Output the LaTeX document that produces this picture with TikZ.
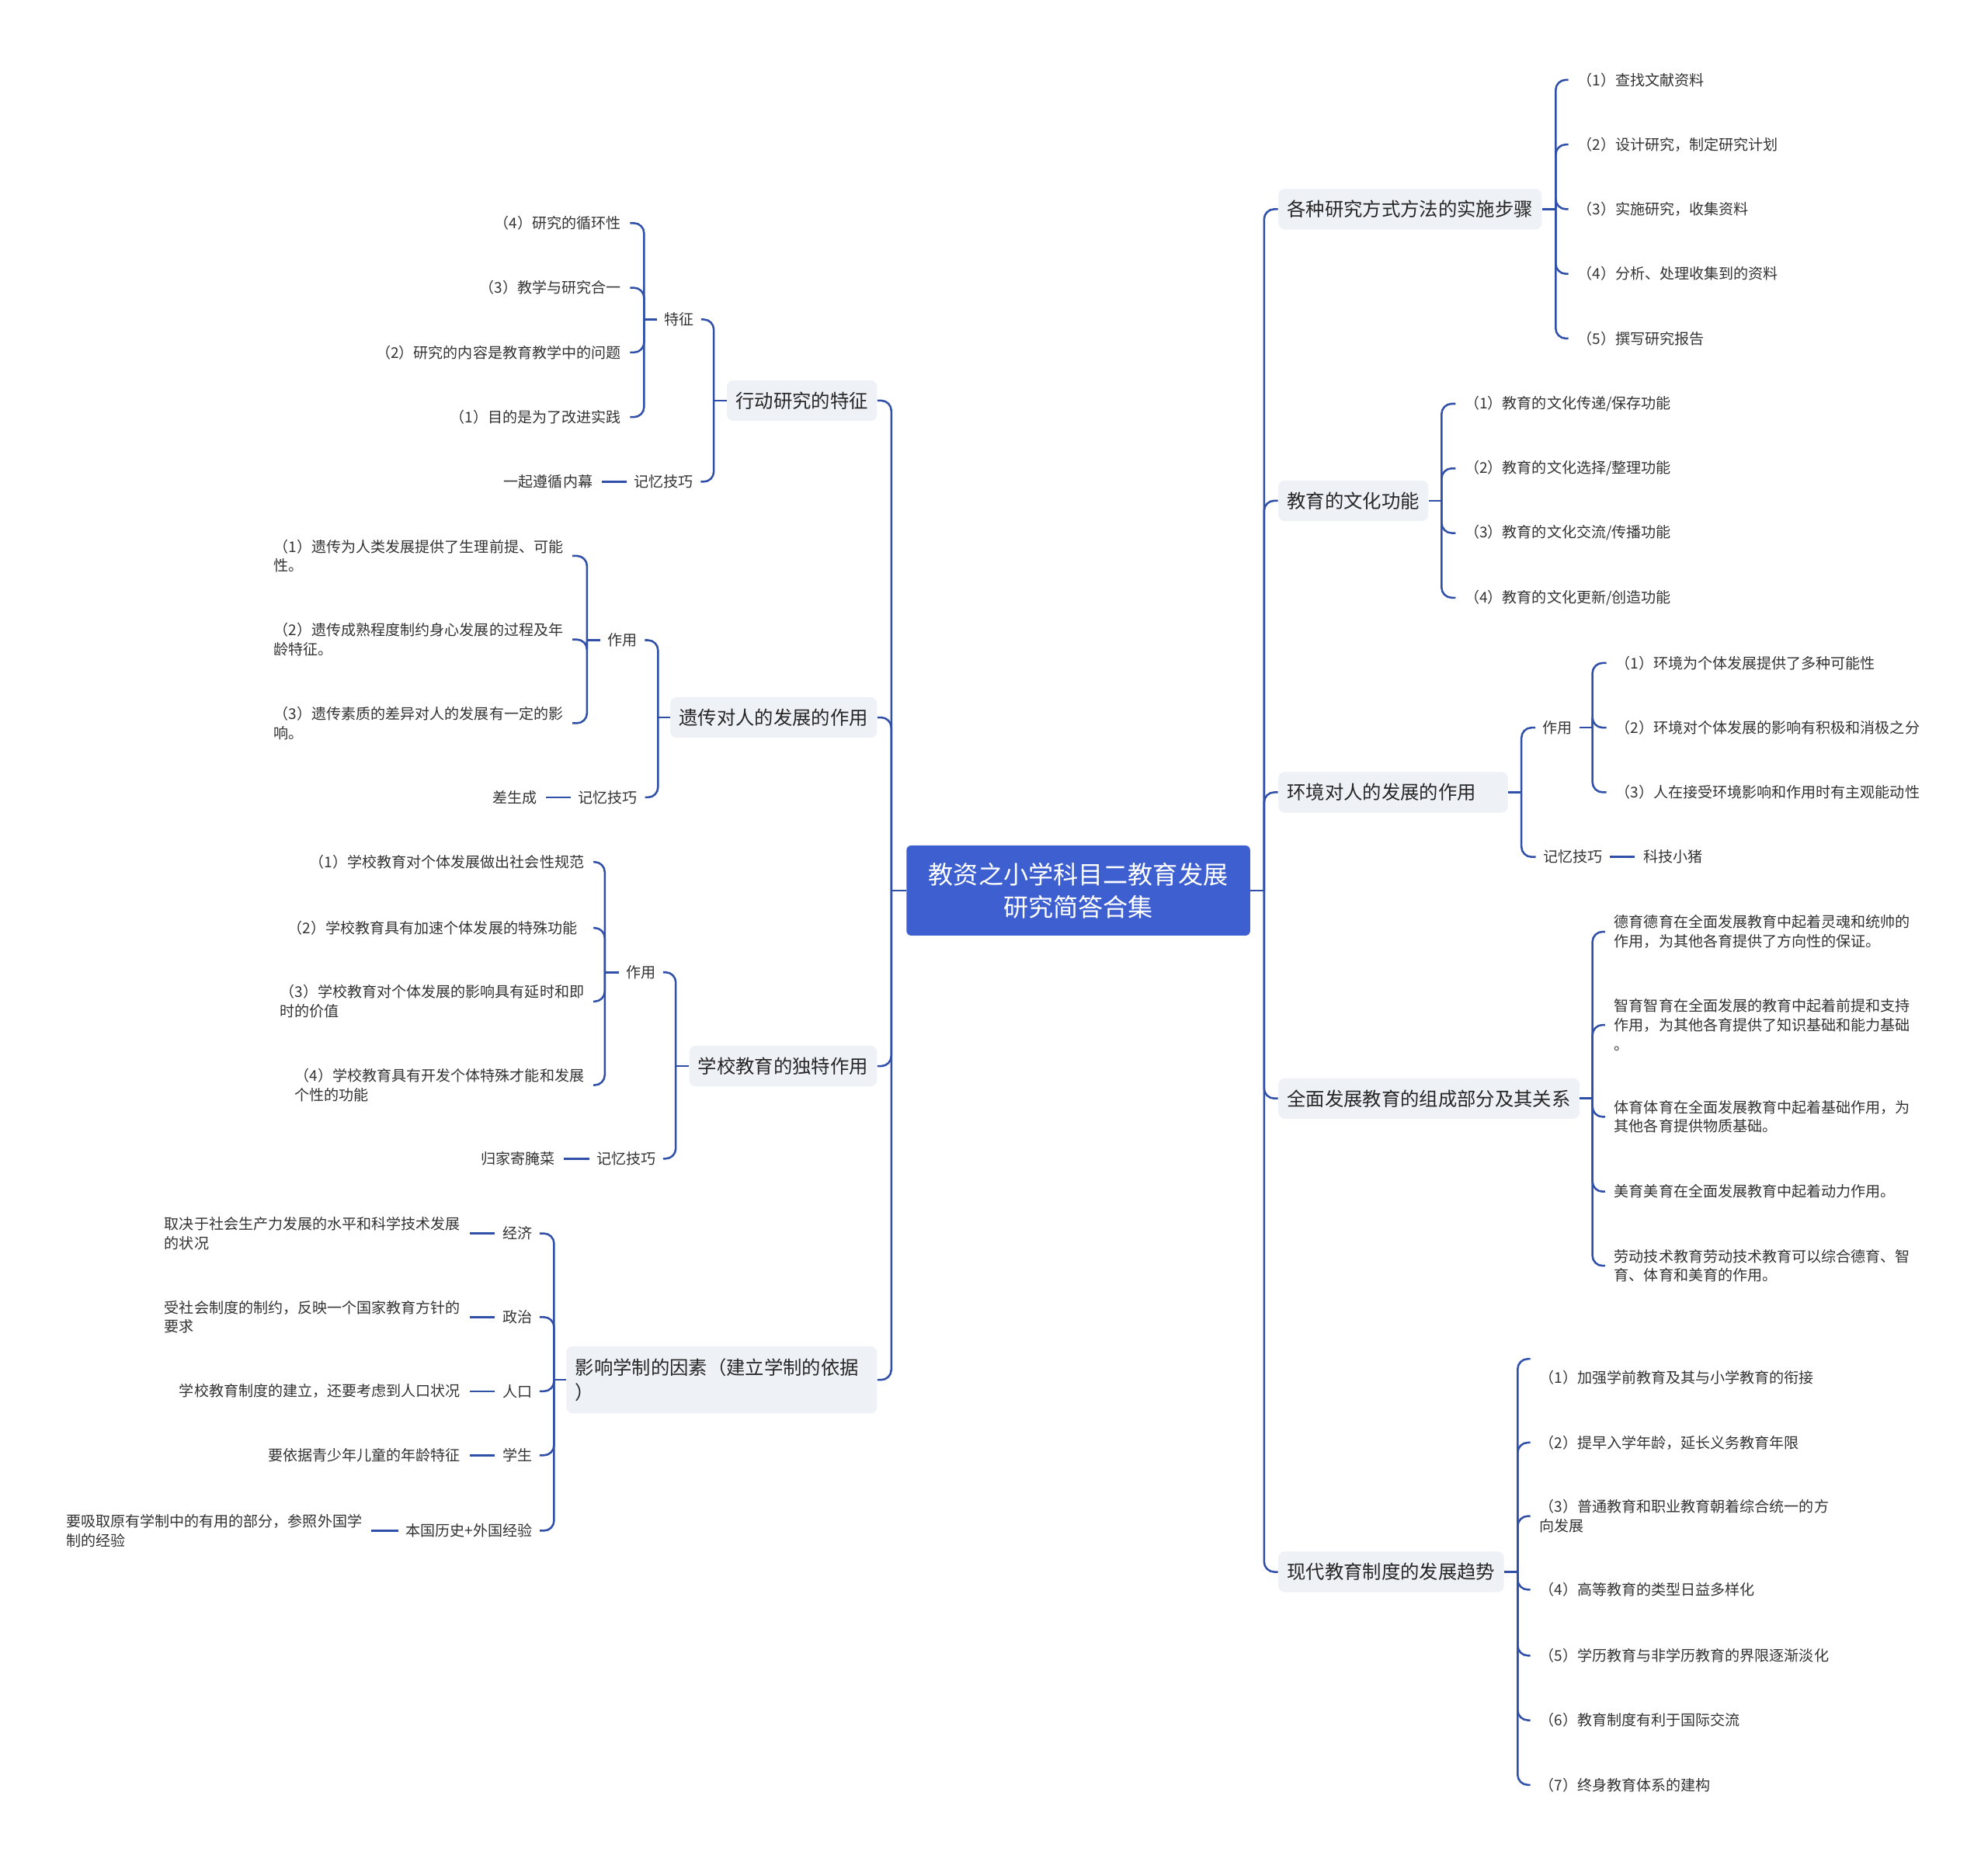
\documentclass[tikz,border=0pt]{standalone}
\usepackage{fontspec}
\setmainfont{Noto Sans CJK SC}
\usepackage{xcolor}
\usepackage{tikz}
\usetikzlibrary{positioning}

\definecolor{rootblue}{HTML}{3D5FCF}
\definecolor{linkblue}{HTML}{2F4FA8}
\definecolor{topicfill}{HTML}{EEF1F6}
\definecolor{textdark}{HTML}{262626}
\definecolor{textgray}{HTML}{333333}

\begin{document}
\begin{tikzpicture}[x=0.25mm, y=-0.25mm,
  root/.style={rectangle, rounded corners=0.9mm, fill=rootblue, text=white, font=\fontsize{14}{18.5}\selectfont, align=center, minimum width=67.75mm, minimum height=17.75mm, inner sep=0pt},
  topic/.style={rectangle, rounded corners=1.25mm, fill=topicfill, text=textdark, font=\fontsize{10.6}{14.2}\selectfont, inner xsep=1.75mm, inner ysep=0pt, minimum height=8mm, align=left},
  sub/.style={text=textgray, font=\fontsize{8.3}{10.7}\selectfont, inner xsep=1.4mm, inner ysep=0.5mm},
  leaf/.style={text=textgray, font=\fontsize{8.3}{10.7}\selectfont, inner xsep=1.75mm, inner ysep=0.5mm, align=left},
  link/.style={draw=linkblue, line width=1.1pt, rounded corners=2mm},
]
  \useasboundingbox[fill=white] (0,0) rectangle (1568,1471);

  % Root
  \node[root] (root) at (850.5,702.5) {教资之小学科目二教育发展\\研究简答合集};
  \coordinate (rootL) at (703,702.5);
  \coordinate (rootR) at (997,702.5);

  % Left topics
  \node[topic, anchor=east] (act) at (692,316) {行动研究的特征};
  \node[topic, anchor=east] (gene) at (692,566) {遗传对人的发展的作用};
  \node[topic, anchor=east] (school) at (692,841) {学校教育的独特作用};
  \node[topic, anchor=east, text width=57.75mm, minimum height=13.25mm] (sys) at (692,1088.5) {影响学制的因素（建立学制的依据\\）};

  % Right topics
  \node[topic, anchor=west] (steps) at (1008,165) {各种研究方式方法的实施步骤};
  \node[topic, anchor=west] (culture) at (1008,395) {教育的文化功能};
  \node[topic, anchor=west, text width=41.75mm] (env) at (1008,625) {环境对人的发展的作用};
  \node[topic, anchor=west] (allround) at (1008,866.5) {全面发展教育的组成部分及其关系};
  \node[topic, anchor=west] (modern) at (1008,1240) {现代教育制度的发展趋势};

  % Action research
  \coordinate (actj) at (563,316);
  \node[sub] (actf) at (535.5,252) {特征};
  \node[sub] (actm) at (523.5,380) {记忆技巧};
  \coordinate (actfj) at (508,252);
  \node[leaf, anchor=east] (actf4) at (497,176) {（4）研究的循环性};
  \node[leaf, anchor=east] (actf3) at (497,227) {（3）教学与研究合一};
  \node[leaf, anchor=east] (actf2) at (497,278) {（2）研究的内容是教育教学中的问题};
  \node[leaf, anchor=east] (actf1) at (497,329) {（1）目的是为了改进实践};
  \node[leaf, left=4.9mm of actm] (actm1) {一起遵循内幕};

  % Heredity
  \coordinate (genej) at (519,566);
  \node[sub] (genef) at (491,505) {作用};
  \node[sub] (genem) at (479.5,629) {记忆技巧};
  \coordinate (genefj) at (463,505);
  \node[leaf, anchor=east] (genef1) at (451.5,438.5) {（1）遗传为人类发展提供了生理前提、可能\\性。};
  \node[leaf, anchor=east] (genef2) at (451.5,504.5) {（2）遗传成熟程度制约身心发展的过程及年\\龄特征。};
  \node[leaf, anchor=east] (genef3) at (451.5,570.5) {（3）遗传素质的差异对人的发展有一定的影\\响。};
  \node[leaf, left=4.9mm of genem] (genem1) {差生成};

  % School education
  \coordinate (schoolj) at (533,841);
  \node[sub] (schoolf) at (505.5,767) {作用};
  \node[sub] (schoolm) at (494,914) {记忆技巧};
  \coordinate (schoolfj) at (477,767);
  \node[leaf, anchor=east] (schoolf1) at (468,680) {（1）学校教育对个体发展做出社会性规范};
  \node[leaf, anchor=east, text width=58.4mm] (schoolf2) at (468,732) {（2）学校教育具有加速个体发展的特殊功能};
  \node[leaf, anchor=east] (schoolf3) at (468,790) {（3）学校教育对个体发展的影响具有延时和即\\时的价值};
  \node[leaf, anchor=east] (schoolf4) at (468,856) {（4）学校教育具有开发个体特殊才能和发展\\个性的功能};
  \node[leaf, left=5mm of schoolm] (schoolm1) {归家寄腌菜};

  % School system
  \coordinate (sysj) at (437,1088.5);
  \node[sub] (sysa) at (408,973) {经济};
  \node[sub] (sysb) at (408,1039) {政治};
  \node[sub] (sysc) at (408,1097.5) {人口};
  \node[sub] (sysd) at (408,1148) {学生};
  \node[sub] (syse) at (370,1207.5) {本国历史+外国经验};
  \node[leaf, left=5mm of sysa] (sysa1) {取决于社会生产力发展的水平和科学技术发展\\的状况};
  \node[leaf, left=5mm of sysb] (sysb1) {受社会制度的制约，反映一个国家教育方针的\\要求};
  \node[leaf, left=5mm of sysc] (sysc1) {学校教育制度的建立，还要考虑到人口状况};
  \node[leaf, left=5mm of sysd] (sysd1) {要依据青少年儿童的年龄特征};
  \node[leaf, left=5.35mm of syse] (syse1) {要吸取原有学制中的有用的部分，参照外国学\\制的经验};

  % Research steps
  \coordinate (stepsj) at (1227,165);
  \node[leaf, anchor=west] (steps1) at (1237,63) {（1）查找文献资料};
  \node[leaf, anchor=west] (steps2) at (1237,114) {（2）设计研究，制定研究计划};
  \node[leaf, anchor=west] (steps3) at (1237,165) {（3）实施研究，收集资料};
  \node[leaf, anchor=west] (steps4) at (1237,216) {（4）分析、处理收集到的资料};
  \node[leaf, anchor=west] (steps5) at (1237,267) {（5）撰写研究报告};

  % Cultural functions
  \coordinate (culturej) at (1137,395);
  \node[leaf, anchor=west] (culture1) at (1148,318.5) {（1）教育的文化传递/保存功能};
  \node[leaf, anchor=west] (culture2) at (1148,369.5) {（2）教育的文化选择/整理功能};
  \node[leaf, anchor=west] (culture3) at (1148,420.5) {（3）教育的文化交流/传播功能};
  \node[leaf, anchor=west] (culture4) at (1148,471.5) {（4）教育的文化更新/创造功能};

  % Environment
  \coordinate (envj) at (1200,625);
  \node[sub] (envf) at (1228.5,574) {作用};
  \node[sub] (envm) at (1240.5,676) {记忆技巧};
  \coordinate (envfj) at (1256,574);
  \node[leaf, anchor=west] (envf1) at (1267,523) {（1）环境为个体发展提供了多种可能性};
  \node[leaf, anchor=west] (envf2) at (1267,574) {（2）环境对个体发展的影响有积极和消极之分};
  \node[leaf, anchor=west] (envf3) at (1267,625) {（3）人在接受环境影响和作用时有主观能动性};
  \node[leaf, right=4.85mm of envm] (envm1) {科技小猪};

  % All-round development
  \coordinate (allroundj) at (1256,866.5);
  \node[leaf, anchor=west] (allround1) at (1266,735) {德育德育在全面发展教育中起着灵魂和统帅的\\作用，为其他各育提供了方向性的保证。};
  \node[leaf, anchor=west] (allround2) at (1266,808.5) {智育智育在全面发展的教育中起着前提和支持\\作用，为其他各育提供了知识基础和能力基础\\。};
  \node[leaf, anchor=west] (allround3) at (1266,881) {体育体育在全面发展教育中起着基础作用，为\\其他各育提供物质基础。};
  \node[leaf, anchor=west] (allround4) at (1266,940) {美育美育在全面发展教育中起着动力作用。};
  \node[leaf, anchor=west] (allround5) at (1266,998.5) {劳动技术教育劳动技术教育可以综合德育、智\\育、体育和美育的作用。};

  % Modern school system
  \coordinate (modernj) at (1197,1240);
  \node[leaf, anchor=west] (modern1) at (1207,1087) {（1）加强学前教育及其与小学教育的衔接};
  \node[leaf, anchor=west] (modern2) at (1207,1138) {（2）提早入学年龄，延长义务教育年限};
  \node[leaf, anchor=west] (modern3) at (1207,1196) {（3）普通教育和职业教育朝着综合统一的方\\向发展};
  \node[leaf, anchor=west] (modern4) at (1207,1254) {（4）高等教育的类型日益多样化};
  \node[leaf, anchor=west] (modern5) at (1207,1306) {（5）学历教育与非学历教育的界限逐渐淡化};
  \node[leaf, anchor=west] (modern6) at (1207,1357) {（6）教育制度有利于国际交流};
  \node[leaf, anchor=west] (modern7) at (1207,1408) {（7）终身教育体系的建构};

  % Root links
  \draw[link] (root.west) -- (rootL);
  \draw[link] (rootL) |- (act.east);
  \draw[link] (rootL) |- (gene.east);
  \draw[link] (rootL) |- (school.east);
  \draw[link] (rootL) |- (sys.east);
  \draw[link] (root.east) -- (rootR);
  \draw[link] (rootR) |- (steps.west);
  \draw[link] (rootR) |- (culture.west);
  \draw[link] (rootR) |- (env.west);
  \draw[link] (rootR) |- (allround.west);
  \draw[link] (rootR) |- (modern.west);

  % Left links
  \draw[link] (act.west) -- (actj);
  \draw[link] (actj) |- (actf.east);
  \draw[link] (actj) |- (actm.east);
  \draw[link] (actf.west) -- (actfj);
  \draw[link] (actfj) |- (actf4.east);
  \draw[link] (actfj) |- (actf3.east);
  \draw[link] (actfj) |- (actf2.east);
  \draw[link] (actfj) |- (actf1.east);
  \draw[link] (actm.west) -- (actm1.east);

  \draw[link] (gene.west) -- (genej);
  \draw[link] (genej) |- (genef.east);
  \draw[link] (genej) |- (genem.east);
  \draw[link] (genef.west) -- (genefj);
  \draw[link] (genefj) |- (genef1.east);
  \draw[link] (genefj) |- (genef2.east);
  \draw[link] (genefj) |- (genef3.east);
  \draw[link] (genem.west) -- (genem1.east);

  \draw[link] (school.west) -- (schoolj);
  \draw[link] (schoolj) |- (schoolf.east);
  \draw[link] (schoolj) |- (schoolm.east);
  \draw[link] (schoolf.west) -- (schoolfj);
  \draw[link] (schoolfj) |- (schoolf1.east);
  \draw[link] (schoolfj) |- (schoolf2.east);
  \draw[link] (schoolfj) |- (schoolf3.east);
  \draw[link] (schoolfj) |- (schoolf4.east);
  \draw[link] (schoolm.west) -- (schoolm1.east);

  \draw[link] (sys.west) -- (sysj);
  \draw[link] (sysj) |- (sysa.east);
  \draw[link] (sysj) |- (sysb.east);
  \draw[link] (sysj) |- (sysc.east);
  \draw[link] (sysj) |- (sysd.east);
  \draw[link] (sysj) |- (syse.east);
  \draw[link] (sysa.west) -- (sysa1.east);
  \draw[link] (sysb.west) -- (sysb1.east);
  \draw[link] (sysc.west) -- (sysc1.east);
  \draw[link] (sysd.west) -- (sysd1.east);
  \draw[link] (syse.west) -- (syse1.east);

  % Right links
  \draw[link] (steps.east) -- (stepsj);
  \draw[link] (stepsj) |- (steps1.west);
  \draw[link] (stepsj) |- (steps2.west);
  \draw[link] (stepsj) |- (steps3.west);
  \draw[link] (stepsj) |- (steps4.west);
  \draw[link] (stepsj) |- (steps5.west);

  \draw[link] (culture.east) -- (culturej);
  \draw[link] (culturej) |- (culture1.west);
  \draw[link] (culturej) |- (culture2.west);
  \draw[link] (culturej) |- (culture3.west);
  \draw[link] (culturej) |- (culture4.west);

  \draw[link] (env.east) -- (envj);
  \draw[link] (envj) |- (envf.west);
  \draw[link] (envj) |- (envm.west);
  \draw[link] (envf.east) -- (envfj);
  \draw[link] (envfj) |- (envf1.west);
  \draw[link] (envfj) |- (envf2.west);
  \draw[link] (envfj) |- (envf3.west);
  \draw[link] (envm.east) -- (envm1.west);

  \draw[link] (allround.east) -- (allroundj);
  \draw[link] (allroundj) |- (allround1.west);
  \draw[link] (allroundj) |- (allround2.west);
  \draw[link] (allroundj) |- (allround3.west);
  \draw[link] (allroundj) |- (allround4.west);
  \draw[link] (allroundj) |- (allround5.west);

  \draw[link] (modern.east) -- (modernj);
  \draw[link] (modernj) |- ([yshift=3.75mm]modern1.west);
  \draw[link] (modernj) |- (modern2.west);
  \draw[link] (modernj) |- (modern3.west);
  \draw[link] (modernj) |- (modern4.west);
  \draw[link] (modernj) |- (modern5.west);
  \draw[link] (modernj) |- (modern6.west);
  \draw[link] (modernj) |- (modern7.west);

\end{tikzpicture}
\end{document}
